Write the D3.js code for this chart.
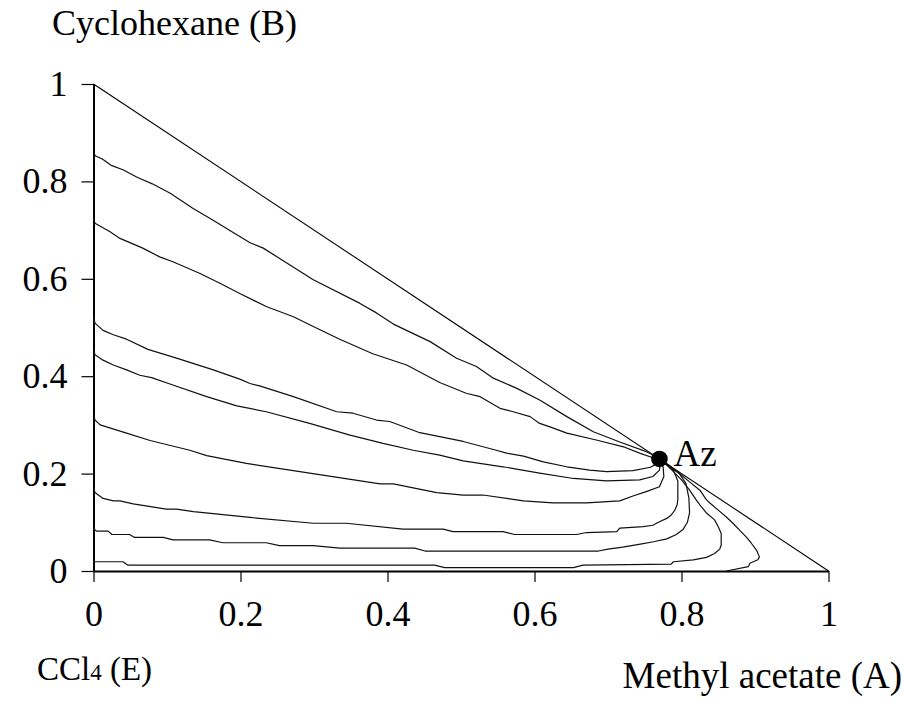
<!DOCTYPE html>
<html>
<head>
<meta charset="utf-8">
<script src="https://cdn.jsdelivr.net/npm/d3@7"></script>
<style>
  body { margin: 0; background: #fff; }
  svg { display: block; }
  text { font-family: "Liberation Serif", "Times New Roman", serif; fill: #000; }
</style>
</head>
<body>
<svg id="chart" width="904" height="701"></svg>
<script>
// Axis ticks and labels
const axisTicks = [0, 0.2, 0.4, 0.6, 0.8, 1];
const tickLabels = ["0", "0.2", "0.4", "0.6", "0.8", "1"];

// Binary edge A–B (x_A + x_B = 1)
const edgeAB = [[0, 1], [1, 0]];

// Azeotrope of methyl acetate / cyclohexane
const azeotrope = [0.77, 0.23];

// Residue curves, [x_A, x_B] pairs, each running between the E–B edge and Az
const curveB086 = [[0,0.858],[0.003,0.852],[0.012,0.846],[0.024,0.833],[0.04,0.824],[0.06,0.808],[0.08,0.795],[0.105,0.775],[0.135,0.745],[0.165,0.718],[0.19,0.695],[0.213,0.674],[0.231,0.663],[0.299,0.598],[0.362,0.550],[0.385,0.530],[0.408,0.507],[0.458,0.471],[0.494,0.437],[0.521,0.420],[0.544,0.396],[0.576,0.375],[0.607,0.351],[0.644,0.317],[0.680,0.286],[0.716,0.265],[0.752,0.245],[0.768,0.234]];
const curveB072 = [[0,0.724],[0.002,0.714],[0.022,0.697],[0.036,0.683],[0.067,0.663],[0.09,0.645],[0.108,0.635],[0.145,0.611],[0.172,0.591],[0.199,0.570],[0.235,0.543],[0.272,0.522],[0.299,0.502],[0.335,0.476],[0.380,0.446],[0.426,0.423],[0.471,0.387],[0.507,0.365],[0.526,0.358],[0.553,0.334],[0.571,0.327],[0.594,0.317],[0.607,0.303],[0.621,0.296],[0.644,0.283],[0.684,0.269],[0.721,0.255],[0.743,0.242],[0.762,0.232]];
const curveB052 = [[0,0.524],[0.002,0.509],[0.013,0.494],[0.027,0.485],[0.045,0.476],[0.074,0.455],[0.113,0.437],[0.163,0.413],[0.199,0.394],[0.213,0.385],[0.226,0.380],[0.272,0.358],[0.331,0.327],[0.353,0.324],[0.385,0.310],[0.403,0.307],[0.444,0.284],[0.503,0.266],[0.548,0.248],[0.562,0.242],[0.585,0.236],[0.612,0.224],[0.644,0.214],[0.675,0.207],[0.698,0.204],[0.734,0.206],[0.758,0.213],[0.768,0.222]];
const curveB045 = [[0,0.455],[0.002,0.444],[0.013,0.433],[0.027,0.423],[0.045,0.413],[0.063,0.402],[0.079,0.397],[0.104,0.384],[0.154,0.358],[0.195,0.339],[0.235,0.327],[0.294,0.303],[0.349,0.279],[0.394,0.262],[0.435,0.248],[0.471,0.238],[0.503,0.226],[0.557,0.214],[0.607,0.201],[0.653,0.190],[0.698,0.185],[0.743,0.187],[0.761,0.194],[0.770,0.207],[0.771,0.220]];
const curveB032 = [[0,0.322],[0.002,0.310],[0.009,0.300],[0.022,0.294],[0.045,0.283],[0.077,0.268],[0.131,0.248],[0.154,0.237],[0.208,0.221],[0.303,0.199],[0.390,0.179],[0.408,0.179],[0.467,0.161],[0.503,0.156],[0.530,0.156],[0.585,0.144],[0.625,0.140],[0.671,0.140],[0.716,0.144],[0.734,0.154],[0.752,0.163],[0.770,0.173],[0.776,0.194],[0.775,0.214],[0.771,0.223]];
const curveB017 = [[0,0.173],[0.002,0.161],[0.013,0.149],[0.027,0.144],[0.036,0.144],[0.054,0.138],[0.099,0.127],[0.113,0.127],[0.136,0.122],[0.213,0.110],[0.299,0.098],[0.344,0.098],[0.421,0.086],[0.476,0.086],[0.489,0.081],[0.557,0.081],[0.573,0.075],[0.657,0.075],[0.671,0.079],[0.712,0.081],[0.716,0.088],[0.748,0.091],[0.761,0.094],[0.770,0.101],[0.780,0.108],[0.786,0.115],[0.791,0.125],[0.794,0.136],[0.795,0.146],[0.795,0.185],[0.789,0.207],[0.778,0.220]];
const curveB009 = [[0,0.093],[0.002,0.084],[0.004,0.082],[0.020,0.082],[0.025,0.075],[0.049,0.075],[0.056,0.069],[0.095,0.069],[0.108,0.064],[0.158,0.064],[0.176,0.058],[0.235,0.058],[0.253,0.052],[0.299,0.052],[0.335,0.047],[0.437,0.047],[0.451,0.041],[0.687,0.041],[0.700,0.045],[0.720,0.049],[0.744,0.055],[0.762,0.060],[0.780,0.066],[0.793,0.075],[0.802,0.085],[0.808,0.100],[0.811,0.120],[0.810,0.150],[0.806,0.180],[0.797,0.200],[0.785,0.213],[0.775,0.224]];
const curveB002 = [[0,0.019],[0.040,0.019],[0.047,0.012],[0.464,0.012],[0.478,0.007],[0.653,0.007],[0.666,0.012],[0.786,0.014],[0.789,0.019],[0.816,0.023],[0.834,0.028],[0.845,0.036],[0.852,0.045],[0.854,0.053],[0.854,0.077],[0.850,0.091],[0.845,0.105],[0.834,0.119],[0.825,0.136],[0.820,0.146],[0.811,0.166],[0.800,0.187],[0.787,0.207],[0.777,0.222]];
const curveA086 = [[0.861,0],[0.891,0.009],[0.893,0.016],[0.904,0.023],[0.906,0.029],[0.902,0.043],[0.895,0.057],[0.888,0.070],[0.879,0.084],[0.870,0.098],[0.861,0.111],[0.850,0.125],[0.839,0.139],[0.834,0.146],[0.825,0.166],[0.811,0.183],[0.798,0.199],[0.784,0.216],[0.775,0.226]];

const residueCurves = [curveB086, curveB072, curveB052, curveB045, curveB032, curveB017, curveB009, curveB002, curveA086];

const svg = d3.select("#chart");
const FONT = 36;

const x = d3.scaleLinear().domain([0, 1]).range([93.5, 828.5]);
const y = d3.scaleLinear().domain([0, 1]).range([571, 84]);

const line = d3.line().x(d => x(d[0])).y(d => y(d[1]));

// Axes
const yAxis = svg.append("g")
  .attr("transform", `translate(${x(0)},0)`)
  .call(d3.axisLeft(y).tickValues(axisTicks).tickFormat((d, i) => tickLabels[i])
    .tickSize(12).tickSizeOuter(0).tickPadding(14));
const xAxis = svg.append("g")
  .attr("transform", `translate(0,${y(0)})`)
  .call(d3.axisBottom(x).tickValues(axisTicks).tickFormat((d, i) => tickLabels[i])
    .tickSize(11).tickSizeOuter(0).tickPadding(18));

[yAxis, xAxis].forEach(g => {
  g.select(".domain").attr("stroke", "#000").attr("stroke-width", 2);
  g.selectAll(".tick line").attr("stroke", "#000").attr("stroke-width", 1.2);
  g.selectAll(".tick text").attr("font-size", FONT)
    .attr("font-family", "'Liberation Serif','Times New Roman',serif").attr("fill", "#000");
});

// A–B edge
svg.append("path").datum(edgeAB).attr("d", line)
  .attr("fill", "none").attr("stroke", "#000").attr("stroke-width", 1.1);

// Residue curves
svg.append("g").selectAll("path").data(residueCurves).join("path")
  .attr("d", line)
  .attr("fill", "none").attr("stroke", "#111").attr("stroke-width", 1.2)
  .attr("stroke-linejoin", "round");

// Azeotrope marker and label
svg.append("circle").attr("cx", x(azeotrope[0])).attr("cy", y(azeotrope[1])).attr("r", 8.3).attr("fill", "#000");
svg.append("text").attr("x", x(azeotrope[0]) + 14).attr("y", y(azeotrope[1]) + 7)
  .attr("font-size", FONT + 1).text("Az");

// Component labels
svg.append("text").attr("x", 52).attr("y", 35).attr("font-size", FONT).text("Cyclohexane (B)");
const eLabel = svg.append("text").attr("x", 37).attr("y", 680).attr("font-size", 33);
eLabel.append("tspan").text("CCl");
eLabel.append("tspan").attr("font-size", 23).text("4");
eLabel.append("tspan").text(" (E)");
svg.append("text").attr("x", 902).attr("y", 688).attr("text-anchor", "end").attr("font-size", FONT + 1).text("Methyl acetate (A)");
</script>
</body>
</html>
